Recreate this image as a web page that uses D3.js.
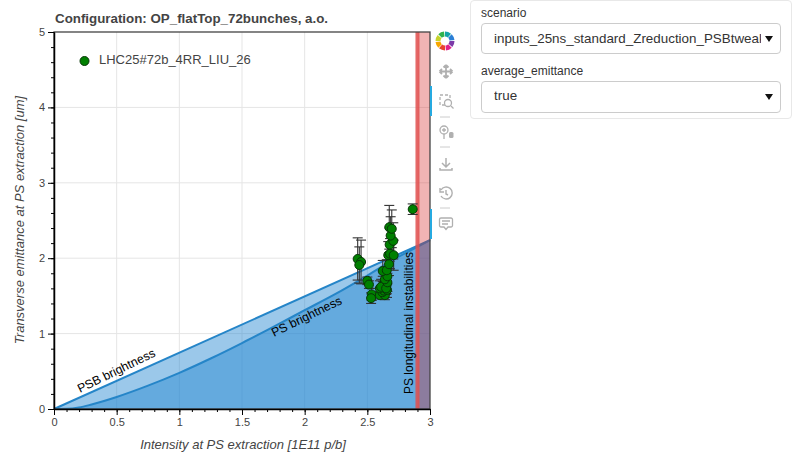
<!DOCTYPE html>
<html lang="en">
<head>
<meta charset="UTF-8">
<title>Configuration</title>
<style>
  body { margin: 0; background: #fff; font-family: "Liberation Sans", sans-serif; }
  #sv { position: absolute; left: 0; top: 0; }
  .axis text { font-size: 11px; fill: #444; font-family: "Liberation Sans", sans-serif; }
  .axis path, .axis line { stroke: #000; }
  .box { position: absolute; left: 470px; top: 0; width: 320px; height: 117px; border: 1px solid #e8e8e8; border-radius: 4px; }
  .lab { position: absolute; left: 481px; font-size: 12px; color: #333; }
  .sel { position: absolute; left: 481px; width: 298px; border: 1px solid #ccc; border-radius: 4px; font-size: 13.4px; color: #333; overflow: hidden; white-space: nowrap; background: #fff; }
  .sel span.t { position: absolute; left: 12px; width: 267px; overflow: hidden; }
  .sel span.a { position: absolute; right: 7px; top: 12px; width: 0; height: 0; border-left: 4px solid transparent; border-right: 4px solid transparent; border-top: 6px solid #111; }
</style>
</head>
<body>
<div id="sv"></div>
<div class="box"></div>
<div class="lab" style="top:6px">scenario</div>
<div class="sel" style="top:23px;height:29px;line-height:29px"><span class="t">inputs_25ns_standard_Zreduction_PSBtweak</span><span class="a"></span></div>
<div class="lab" style="top:64px">average_emittance</div>
<div class="sel" style="top:81px;height:30px;line-height:28px"><span class="t">true</span><span class="a"></span></div>
<script src="https://d3js.org/d3.v7.min.js"></script>
<script>
// values
var intensity = [2.423,2.45,2.436,2.50,2.513,2.535,2.53,2.60,2.64,2.62,2.633,2.657,2.60,2.623,2.655,2.61,2.65,2.66,2.64,2.66,2.623,2.655,2.673,2.667,2.681,2.71,2.678,2.707,2.686,2.675,2.695,2.862];
var emittance = [1.99,1.95,1.91,1.70,1.65,1.52,1.47,1.51,1.51,1.55,1.57,1.58,1.60,1.64,1.65,1.62,1.60,1.68,1.72,1.76,1.83,1.84,1.92,2.04,2.06,2.04,2.18,2.23,2.30,2.41,2.39,2.65];
var errs =      [0.28,0.29,0.24,0.05,0.05,0.08,0.07,0.05,0.06,0.08,0.10,0.10,0.10,0.12,0.12,0.10,0.08,0.12,0.12,0.10,0.14,0.14,0.15,0.18,0.20,0.20,0.22,0.24,0.25,0.29,0.25,0.07];
var psbX = [0,3];
var psbY = [0,2.24];
var psX = [0,0.1,0.2,0.3,0.5,0.75,1,1.25,1.5,1.75,2,2.25,2.5,2.75,2.9,3];
var psY = [0,0.002,0.02,0.06,0.16,0.31,0.48,0.67,0.875,1.09,1.31,1.53,1.77,2.02,2.15,2.24];
var xTicks = [0,0.5,1,1.5,2,2.5,3];
var yTicks = [0,1,2,3,4,5];
var psLimit = 2.9;

var plot = {left: 54, right: 430, top: 32, bottom: 409};
var x = d3.scaleLinear().domain([0,3]).range([plot.left, plot.right]);
var y = d3.scaleLinear().domain([0,5]).range([plot.bottom, plot.top]);

var svg = d3.select("#sv").append("svg").attr("width", 792).attr("height", 460);

// grid
svg.append("g").selectAll("line").data(xTicks.slice(1,-1)).enter().append("line")
  .attr("x1", d => x(d)).attr("x2", d => x(d)).attr("y1", plot.top).attr("y2", plot.bottom)
  .attr("stroke", "#e5e5e5");
svg.append("g").selectAll("line").data(yTicks.slice(1,-1)).enter().append("line")
  .attr("y1", d => y(d)).attr("y2", d => y(d)).attr("x1", plot.left).attr("x2", plot.right)
  .attr("stroke", "#e5e5e5");

// brightness areas
var psbPts = psbX.map((d,i) => [d, psbY[i]]);
var psPts = psX.map((d,i) => [d, psY[i]]);
var area = d3.area().x(d => x(d[0])).y0(y(0)).y1(d => y(d[1])).curve(d3.curveMonotoneX);
var line = d3.line().x(d => x(d[0])).y(d => y(d[1])).curve(d3.curveMonotoneX);
svg.append("path").attr("d", area(psbPts)).attr("fill", "#2185d0").attr("fill-opacity", 0.45);
svg.append("path").attr("d", area(psPts)).attr("fill", "#2185d0").attr("fill-opacity", 0.45);
svg.append("path").attr("d", line(psbPts)).attr("fill", "none").attr("stroke", "#2585c8").attr("stroke-width", 2);
svg.append("path").attr("d", line(psPts)).attr("fill", "none").attr("stroke", "#2585c8").attr("stroke-width", 2);

// PS longitudinal limit
svg.append("rect").attr("x", x(psLimit)).attr("y", y(5)).attr("width", x(3)-x(psLimit)).attr("height", y(0)-y(5))
  .attr("fill", "#d62728").attr("fill-opacity", 0.35);
svg.append("line").attr("x1", x(psLimit)).attr("x2", x(psLimit)).attr("y1", y(5)).attr("y2", y(0))
  .attr("stroke", "#e0504f").attr("stroke-width", 4).attr("stroke-opacity", 0.85);

// error bars
var pts = intensity.map((d,i) => ({x: d, y: emittance[i], e: errs[i]}));
var eb = svg.append("g").attr("stroke", "#333").attr("stroke-width", 1.1);
pts.forEach(function(p){
  eb.append("line").attr("x1", x(p.x)).attr("x2", x(p.x)).attr("y1", y(p.y-p.e)).attr("y2", y(p.y+p.e));
  [p.y-p.e, p.y+p.e].forEach(function(v){
    eb.append("line").attr("x1", x(p.x)-5).attr("x2", x(p.x)+5).attr("y1", y(v)).attr("y2", y(v));
  });
});
// points
svg.append("g").selectAll("circle").data(pts).enter().append("circle")
  .attr("cx", d => x(d.x)).attr("cy", d => y(d.y)).attr("r", 4.5)
  .attr("fill", "#008000").attr("stroke", "#073607").attr("stroke-width", 1);

// frame and axes
svg.append("rect").attr("x", plot.left).attr("y", plot.top).attr("width", plot.right-plot.left).attr("height", plot.bottom-plot.top)
  .attr("fill", "none").attr("stroke", "#444").attr("stroke-width", 1.3);

var xAxis = svg.append("g").attr("class", "axis").attr("transform", `translate(0,${plot.bottom})`)
  .call(d3.axisBottom(x).tickValues(xTicks).tickFormat(d3.format("")).tickSize(6).tickSizeOuter(0));
xAxis.select(".domain").attr("stroke-width", 1.5);
svg.append("g").attr("class", "axis").attr("transform", `translate(0,${plot.bottom})`)
  .call(d3.axisBottom(x).tickValues(d3.range(0,3.01,0.1)).tickFormat("").tickSize(3).tickSizeOuter(0));
var yAxis = svg.append("g").attr("class", "axis").attr("transform", `translate(${plot.left},0)`)
  .call(d3.axisLeft(y).tickValues(yTicks).tickFormat(d3.format("d")).tickSize(6).tickSizeOuter(0));
yAxis.select(".domain").attr("stroke-width", 1.5);
svg.append("g").attr("class", "axis").attr("transform", `translate(${plot.left},0)`)
  .call(d3.axisLeft(y).tickValues(d3.range(0,5.01,0.2)).tickFormat("").tickSize(3).tickSizeOuter(0));

// texts
function txt(s, px, py, o) {
  o = o || {};
  var t = svg.append("text").attr("x", px).attr("y", py).text(s)
    .attr("font-family", "'Liberation Sans', sans-serif")
    .attr("font-size", o.size || 12).attr("fill", o.fill || "#000")
    .attr("text-anchor", o.anchor || "start");
  if (o.weight) t.attr("font-weight", o.weight);
  if (o.style) t.attr("font-style", o.style);
  if (o.rot !== undefined) t.attr("transform", `rotate(${o.rot} ${px} ${py})`);
  return t;
}
txt("Configuration: OP_flatTop_72bunches, a.o.", 55, 23, {size: 13.33, weight: "bold", fill: "#444"});
txt("Intensity at PS extraction [1E11 p/b]", 243, 449, {size: 13, style: "italic", fill: "#444", anchor: "middle"});
txt("Transverse emittance at PS extraction [um]", 24, 220, {size: 13, style: "italic", fill: "#444", anchor: "middle", rot: -90});
txt("PSB brightness", 80, 393, {size: 12.3, rot: -26});
txt("PS brightness", 274, 337, {size: 12.3, rot: -26});
txt("PS longitudinal instabilities", 413, 394, {rot: -90});

// legend
svg.append("circle").attr("cx", 84.5).attr("cy", 61).attr("r", 4.5).attr("fill", "#008000").attr("stroke", "#073607");
txt("LHC25#72b_4RR_LIU_26", 99, 64, {size: 13, fill: "#444"});

// toolbar
var tb = svg.append("g");
var logoCols = ["#e8432e","#f7a600","#c6d32a","#2fb24c","#12a3a8","#2a7fd6","#7c3aa8","#e0218a"];
var arc = d3.arc().innerRadius(4.5).outerRadius(9.5);
logoCols.forEach(function(c,i){
  tb.append("path").attr("transform","translate(445,41)")
    .attr("d", arc({startAngle: (i+4)*Math.PI/4, endAngle: (i+5)*Math.PI/4 - 0.1}))
    .attr("fill", c);
});
var gc = "#b0b0b0";
// pan
tb.append("path").attr("d","M446 65v13M439.500 71.500h13M446 65l-2.500 2.500M446 65l2.500 2.500M446 78l-2.500-2.500M446 78l2.500-2.500M439.500 71.500l2.500-2.500M439.500 71.500l2.500 2.500M452.500 71.500l-2.500-2.500M452.500 71.500l-2.500 2.500").attr("fill","none").attr("stroke",gc).attr("stroke-width",1.8);
// box zoom
tb.append("rect").attr("x",440).attr("y",95).attr("width",10).attr("height",10).attr("fill","none").attr("stroke",gc).attr("stroke-width",1.3).attr("stroke-dasharray","3 2");
tb.append("circle").attr("cx",448).attr("cy",103).attr("r",3.5).attr("fill","#fff").attr("stroke",gc).attr("stroke-width",1.3);
tb.append("line").attr("x1",451).attr("y1",106).attr("x2",453.5).attr("y2",108.5).attr("stroke",gc).attr("stroke-width",1.3);
// wheel zoom
tb.append("circle").attr("cx",444).attr("cy",130).attr("r",4).attr("fill","none").attr("stroke",gc).attr("stroke-width",1.3);
tb.append("path").attr("d","M444 134v5M442 130h4M444 128v4").attr("stroke",gc).attr("stroke-width",1.3);
tb.append("rect").attr("x",449).attr("y",132).attr("width",4.5).attr("height",6).attr("rx",1.5).attr("fill",gc);
// save
tb.append("path").attr("d","M446 158v9M442 163l4 4l4-4M440 168v2h12v-2").attr("fill","none").attr("stroke",gc).attr("stroke-width",1.5);
// reset
tb.append("path").attr("d","M441 190a6 6 0 1 1 0 6M440 188v4h4M446 190v4l2 1").attr("fill","none").attr("stroke",gc).attr("stroke-width",1.4);
// help
tb.append("path").attr("d","M441 218h10a1.500 1.500 0 0 1 1.500 1.500v6a1.500 1.500 0 0 1-1.500 1.500h-3l-2 2.500l-2-2.500h-3a1.500 1.500 0 0 1-1.500-1.500v-6a1.500 1.500 0 0 1 1.500-1.500M442 221h8M442 224h6").attr("fill","none").attr("stroke",gc).attr("stroke-width",1.3);
// separators
[117,147,208].forEach(function(v){ tb.append("line").attr("x1",440).attr("x2",450).attr("y1",v).attr("y2",v).attr("stroke","#ccc"); });
// active tool markers
[[86,116],[209,239]].forEach(function(r){ tb.append("line").attr("x1",431).attr("x2",431).attr("y1",r[0]).attr("y2",r[1]).attr("stroke","#26aae1").attr("stroke-width",2); });
</script>
</body>
</html>
